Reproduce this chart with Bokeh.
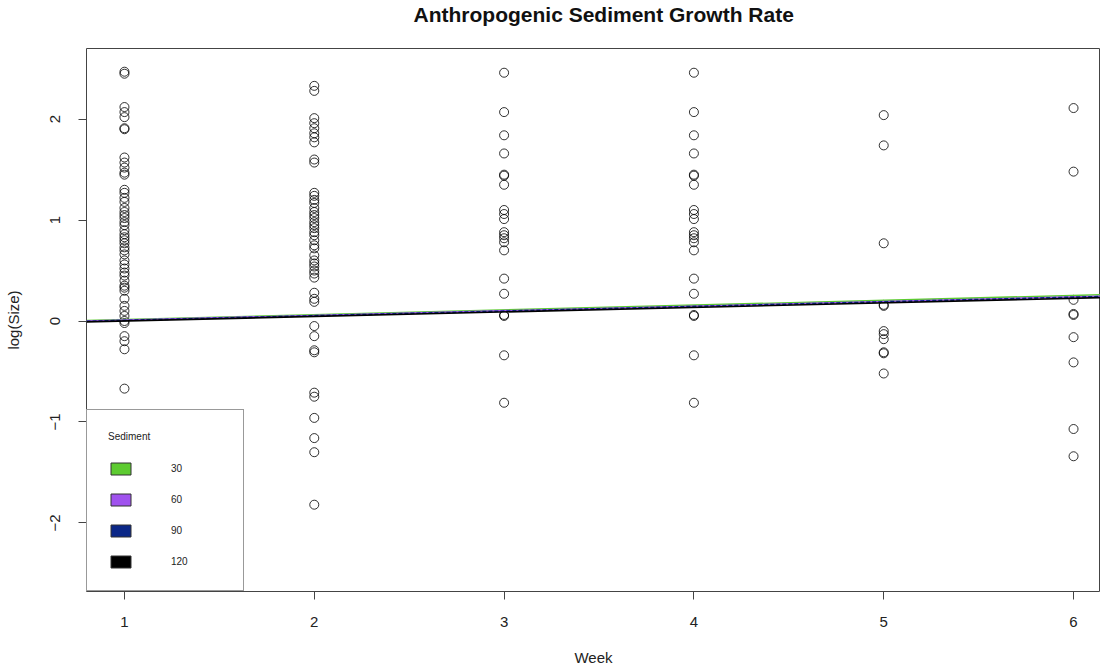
import numpy as np
from bokeh.plotting import figure
from bokeh.models import ColumnDataSource, Legend, LegendItem, FixedTicker, Range1d, Title
from bokeh.embed import file_html
from bokeh.resources import INLINE

# ---- data ----
week1 = [2.47, 2.45, 2.12, 2.07, 2.02, 1.91, 1.90, 1.62, 1.57, 1.52, 1.47, 1.45,
         1.30, 1.27, 1.22, 1.18, 1.12, 1.08, 1.05, 1.02, 0.98, 0.95, 0.90, 0.86,
         0.83, 0.80, 0.77, 0.73, 0.70, 0.66, 0.60, 0.56, 0.52, 0.48, 0.45, 0.40,
         0.35, 0.33, 0.30, 0.22, 0.15, 0.10, 0.05, 0.00, -0.02, -0.15, -0.20,
         -0.28, -0.67]
week2 = [2.33, 2.28, 2.01, 1.96, 1.91, 1.86, 1.82, 1.77, 1.60, 1.57, 1.27, 1.24,
         1.20, 1.17, 1.12, 1.08, 1.05, 1.02, 0.98, 0.95, 0.92, 0.88, 0.85, 0.80,
         0.75, 0.72, 0.65, 0.60, 0.57, 0.54, 0.50, 0.47, 0.43, 0.28, 0.22, 0.19,
         -0.05, -0.15, -0.29, -0.31, -0.71, -0.75, -0.96, -1.16, -1.30, -1.82]
week3 = [2.46, 2.07, 1.84, 1.66, 1.45, 1.44, 1.35, 1.10, 1.06, 1.01, 0.88, 0.85,
         0.82, 0.78, 0.70, 0.42, 0.27, 0.06, 0.05, -0.34, -0.81]
week4 = [2.46, 2.07, 1.84, 1.66, 1.45, 1.44, 1.35, 1.10, 1.06, 1.01, 0.88, 0.85,
         0.82, 0.78, 0.70, 0.42, 0.27, 0.06, 0.05, -0.34, -0.81]
week5 = [2.04, 1.74, 0.77, 0.16, 0.15, -0.10, -0.13, -0.18, -0.31, -0.32, -0.52]
week6 = [2.11, 1.48, 0.21, 0.07, 0.06, -0.16, -0.41, -1.07, -1.34]

weeks = [1, 2, 3, 4, 5, 6]
sizes = [week1, week2, week3, week4, week5, week6]

sediment_labels = ["30", "60", "90", "120"]
sediment_colors = ["#5DCB30", "#A052EE", "#0B2787", "#000000"]
intercepts = [-0.035, -0.037, -0.040, -0.045]
slopes = [0.048, 0.046, 0.046, 0.045]
line_dashes = ["solid", "solid", "4 2", "solid"]

x_ticks = [1, 2, 3, 4, 5, 6]
y_ticks = [-2, -1, 0, 1, 2]

# ---- figure ----
FONT = "Liberation Sans"
X_MIN, X_MAX = 0.8, 6.142
p = figure(width=1100, height=668, output_backend="svg", toolbar_location=None,
           x_range=Range1d(X_MIN, X_MAX), y_range=Range1d(-2.68, 2.70),
           min_border_left=86, min_border_right=0, min_border_top=40,
           min_border_bottom=73)

# main title (outermost) and an empty spacer title next to the frame
p.title.text = "Anthropogenic Sediment Growth Rate"
p.title.align = "left"
p.title.offset = 327
p.title.text_font = FONT
p.title.text_font_size = "21px"
p.title.text_font_style = "bold"
p.title.text_color = "#111111"
p.title.standoff = 0
spacer = Title(text=" ", text_font_size="10px", standoff=10)
p.add_layout(spacer, "above")

p.grid.visible = False
p.outline_line_color = "#444444"
p.outline_line_width = 1

for ax in (p.xaxis[0], p.yaxis[0]):
    ax.axis_line_color = None
    ax.major_tick_line_color = "#444444"
    ax.major_tick_out = 8
    ax.major_tick_in = 0
    ax.minor_tick_line_color = None
    ax.major_label_text_font = FONT
    ax.major_label_text_font_size = "15px"
    ax.major_label_text_color = "#222222"
    ax.axis_label_text_font = FONT
    ax.axis_label_text_font_size = "15px"
    ax.axis_label_text_font_style = "normal"
    ax.axis_label_text_color = "#222222"

p.xaxis.ticker = FixedTicker(ticks=x_ticks)
p.yaxis.ticker = FixedTicker(ticks=y_ticks)
p.xaxis.axis_label = "Week"
p.yaxis.axis_label = "log(Size)"
p.xaxis.major_label_standoff = 17
p.xaxis.axis_label_standoff = 19
p.yaxis.major_label_orientation = "vertical"
p.yaxis.major_label_standoff = 18
p.yaxis.axis_label_standoff = 26

# points
xs, ys = [], []
for w, vals in zip(weeks, sizes):
    xs += [w] * len(vals)
    ys += vals
pts = ColumnDataSource(dict(x=xs, y=ys))
p.scatter("x", "y", source=pts, marker="circle", size=9, fill_color=None,
          line_color="black", line_alpha=0.8, line_width=1)

# regression lines
xl = np.array([X_MIN, X_MAX])
for lab, col, a, b, d in zip(sediment_labels, sediment_colors, intercepts, slopes, line_dashes):
    p.line(xl, a + b * xl, line_color=col, line_width=1.6, line_dash=d)

# legend with filled swatches (glyphs with no visible data)
items = []
for lab, col in zip(sediment_labels, sediment_colors):
    r = p.quad(left=[np.nan], right=[np.nan], top=[np.nan], bottom=[np.nan],
               fill_color=col, line_color="#333333")
    items.append(LegendItem(label=lab, renderers=[r]))

legend = Legend(items=items, location="bottom_left", margin=0, padding=21,
                spacing=16, glyph_width=25, glyph_height=15, label_standoff=38,
                label_width=51, title="Sediment", title_text_font=FONT,
                title_text_font_size="10px", title_text_font_style="normal",
                title_text_color="#222222",
                title_standoff=19, label_text_font=FONT, label_text_font_size="10px",
                label_text_color="#222222",
                border_line_color="#333333", border_line_width=1,
                background_fill_color="white", background_fill_alpha=1.0)
p.add_layout(legend, "center")

open("out.html", "w").write(file_html(p, INLINE))
